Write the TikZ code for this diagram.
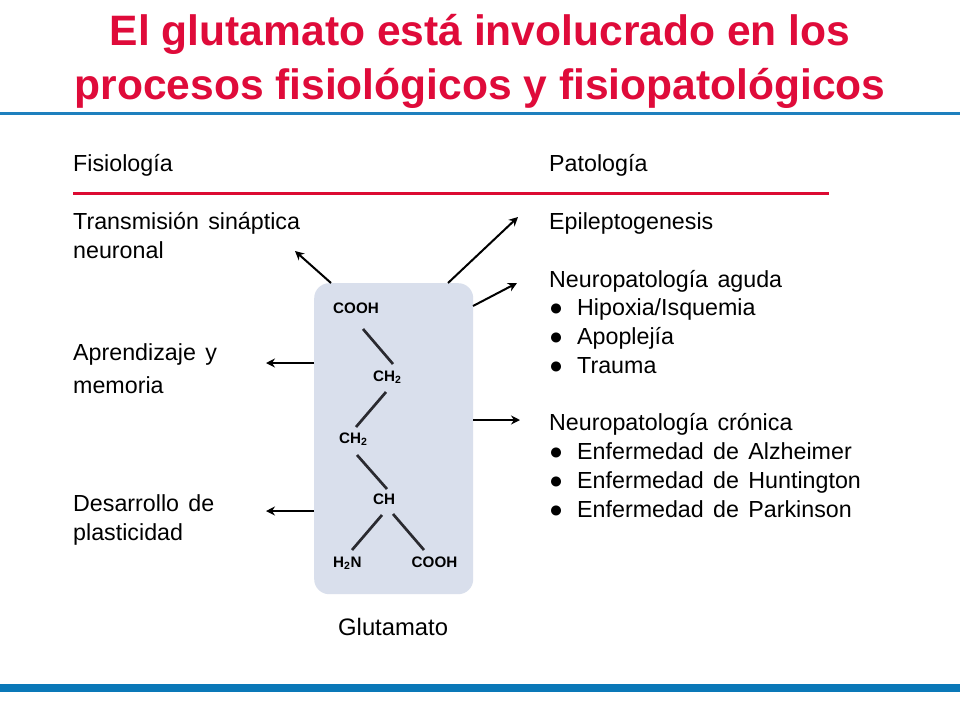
\documentclass[tikz,border=0pt]{standalone}
\usepackage{fontspec}
\setmainfont{Liberation Sans}[WordSpace=1.45]
\newfontfamily\titlefont{Liberation Sans}
\usetikzlibrary{arrows.meta}
\definecolor{titlered}{HTML}{DF0B3A}
\definecolor{rulered}{HTML}{DC0A32}
\definecolor{barblue}{HTML}{0A78B8}
\definecolor{topblue}{HTML}{1E80BE}
\definecolor{boxfill}{HTML}{D9DFEC}
\definecolor{bondcol}{HTML}{2A2A30}
\newcommand{\subtwo}{\textsubscript{\fontsize{10.5}{10.5}\selectfont 2}}
\tikzset{
  x=1pt,y=-1pt,
  ttl/.style={anchor=base,inner sep=0,text=titlered,font=\titlefont\fontsize{42.55}{42.55}\selectfont\bfseries},
  txt/.style={anchor=base west,inner sep=0,text=black,font=\fontsize{23.25}{23.25}\selectfont},
  gluc/.style={txt,font=\fontsize{23.8}{23.8}\selectfont},
  chem/.style={anchor=base west,inner sep=0,text=black,font=\titlefont\fontsize{15.2}{15.2}\selectfont\bfseries},
  arr/.style={draw=black,line width=2pt,-{Stealth[length=9pt,width=9pt]}},
  bond/.style={draw=bondcol,line width=2.7pt},
}
\begin{document}
\begin{tikzpicture}
\useasboundingbox (0,0) rectangle (960,720);
\fill[white] (0,0) rectangle (960,720);
% bars
\fill[topblue] (0,111.5) rectangle (960,114.5);
\fill[barblue] (0,683.5) rectangle (960,692);
\fill[rulered] (73,192) rectangle (829,195);
% title
\node[ttl] (t1) at (480,45.5) {El glutamato está involucrado en los};
\node[ttl] (t2) at (480,99) {procesos fisiológicos y fisiopatológicos};
% box
\node[draw=none,fill=boxfill,rounded corners=15pt,minimum width=159pt,minimum height=311pt,inner sep=0,anchor=north west] (box) at (314,283) {};
% left
\node[txt] (fis) at (73,171) {Fisiología};
\node[txt] (l1a) at (73,229) {Transmisión sináptica};
\node[txt] (l1b) at (73,258) {neuronal};
\node[txt] (l2a) at (73,360) {Aprendizaje y};
\node[txt] (l2b) at (73,393) {memoria};
\node[txt] (l3a) at (73,511) {Desarrollo de};
\node[txt] (l3b) at (73,540) {plasticidad};
% right
\node[txt] (pat) at (549,171) {Patología};
\node[txt] (r1) at (549,229) {Epileptogenesis};
\node[txt] (r2) at (549,287) {Neuropatología aguda};
\node[txt] (r2a) at (549,315) {●};
\node[txt] (r2at) at (577,315) {Hipoxia/Isquemia};
\node[txt] (r2b) at (549,344) {●};
\node[txt] (r2bt) at (577,344) {Apoplejía};
\node[txt] (r2c) at (549,373) {●};
\node[txt] (r2ct) at (577,373) {Trauma};
\node[txt] (r3) at (549,430) {Neuropatología crónica};
\node[txt] (r3a) at (549,459) {●};
\node[txt] (r3at) at (577,459) {Enfermedad de Alzheimer};
\node[txt] (r3b) at (549,488) {●};
\node[txt] (r3bt) at (577,488) {Enfermedad de Huntington};
\node[txt] (r3c) at (549,517) {●};
\node[txt] (r3ct) at (577,517) {Enfermedad de Parkinson};
\node[gluc] (glu) at (338,635) {Glutamato};
% chem labels
\node[chem] (c1) at (333,313) {COOH};
\node[chem] (c2) at (373,381) {CH\subtwo};
\node[chem] (c3) at (339,443) {CH\subtwo};
\node[chem] (c4) at (373,504) {CH};
\node[chem] (c5) at (333,567) {H\subtwo N};
\node[chem] (c6) at (411.5,567) {COOH};
% bond ends
\coordinate (b1s) at (363,329); \coordinate (b1e) at (393,364);
\coordinate (b2s) at (386,392); \coordinate (b2e) at (356,427);
\coordinate (b3s) at (357,455); \coordinate (b3e) at (387,489);
\coordinate (b4s) at (382,515); \coordinate (b4e) at (352,550);
\coordinate (b5s) at (393,514); \coordinate (b5e) at (424,550);
\draw[bond] (b1s) -- (b1e);
\draw[bond] (b2s) -- (b2e);
\draw[bond] (b3s) -- (b3e);
\draw[bond] (b4s) -- (b4e);
\draw[bond] (b5s) -- (b5e);
% arrows
\coordinate (a1s) at (331,283); \coordinate (a1e) at (295,251);
\coordinate (a2s) at (448,283); \coordinate (a2e) at (518,217);
\coordinate (a3s) at (473,306); \coordinate (a3e) at (517,283);
\coordinate (a4s) at (314,363); \coordinate (a4e) at (266,363);
\coordinate (a5s) at (473,420); \coordinate (a5e) at (520,420);
\coordinate (a6s) at (314,511); \coordinate (a6e) at (266,511);
\draw[arr] (a1s) -- (a1e);
\draw[arr] (a2s) -- (a2e);
\draw[arr] (a3s) -- (a3e);
\draw[arr] (a4s) -- (a4e);
\draw[arr] (a5s) -- (a5e);
\draw[arr] (a6s) -- (a6e);
\end{tikzpicture}
\end{document}
